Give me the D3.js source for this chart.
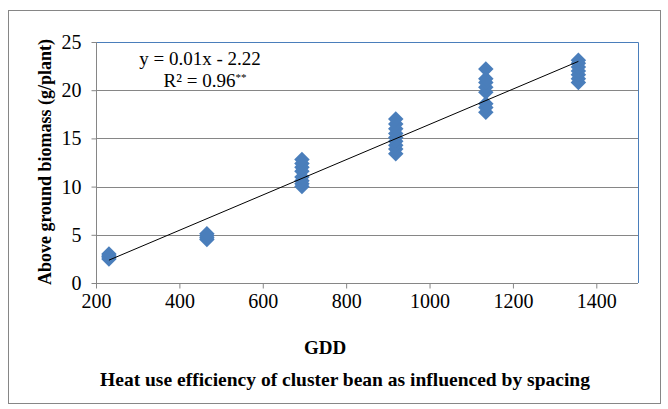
<!DOCTYPE html>
<html>
<head>
<meta charset="utf-8">
<script src="https://cdn.jsdelivr.net/npm/d3@7"></script>
<style>
  body { margin: 0; background: #fff; }
  svg { display: block; font-family: "Liberation Serif", "Times New Roman", serif; }
</style>
</head>
<body>
<svg id="chart" width="668" height="409"></svg>
<script>
// GDD groups and biomass readings (g/plant)
var gddLevels = [231, 466, 694, 919, 1135, 1357];
var biomass = [
    [2.5, 2.7, 2.8, 3.0],
    [4.5, 4.7, 4.9, 5.1],
    [10.0, 10.3, 10.6, 11.0, 11.6, 12.0, 12.4, 12.8],
    [13.4, 13.9, 14.3, 14.7, 15.1, 15.5, 16.0, 16.5, 17.0],
    [17.7, 18.2, 18.6, 19.8, 20.3, 20.8, 21.2, 22.2],
    [20.8, 21.2, 21.6, 22.0, 22.4, 22.8, 23.1]
];
var xTicks = [200, 400, 600, 800, 1000, 1200, 1400];
var yTicks = [0, 5, 10, 15, 20, 25];
var eqLine1 = "y = 0.01x - 2.22";
var eqLine2 = "R² = 0.96";
var xTitle = "GDD";
var yTitle = "Above ground biomass (g/plant)";
var caption = "Heat use efficiency of cluster bean as influenced by spacing";

var svg = d3.select("#chart");
var plotL = 96, plotR = 638, plotT = 42, plotB = 283;

// flat list of points
var pts = [];
for (var i = 0; i < gddLevels.length; i++) {
    for (var j = 0; j < biomass[i].length; j++) {
        pts.push({x: gddLevels[i], y: biomass[i][j]});
    }
}

var x = d3.scaleLinear().domain([200, 1500]).range([plotL, plotR]);
var y = d3.scaleLinear().domain([0, 25]).range([plotB, plotT]);

// outer frame
svg.append("rect")
    .attr("x", 8.5).attr("y", 10.5)
    .attr("width", 652).attr("height", 393)
    .attr("fill", "none").attr("stroke", "#868686");

// gridlines
svg.append("g").selectAll("line")
    .data(yTicks.slice(1, -1))
    .enter().append("line")
    .attr("x1", plotL).attr("x2", plotR)
    .attr("y1", function(d) { return Math.round(y(d)) + 0.5; })
    .attr("y2", function(d) { return Math.round(y(d)) + 0.5; })
    .attr("stroke", "#868686");

// plot border top/right (blue)
svg.append("path")
    .attr("d", "M" + plotL + "," + (plotT + 0.5) + "H" + (plotR + 0.5) + "V" + plotB)
    .attr("fill", "none").attr("stroke", "#4a7ebb");

// axes
var xAxis = svg.append("g")
    .attr("transform", "translate(0," + (plotB + 0.5) + ")")
    .call(d3.axisBottom(x).tickValues(xTicks).tickFormat(d3.format("d"))
        .tickSize(5).tickSizeOuter(0).tickPadding(5));
var yAxis = svg.append("g")
    .attr("transform", "translate(" + (plotL + 0.5) + ",0)")
    .call(d3.axisLeft(y).tickValues(yTicks).tickFormat(d3.format("d"))
        .tickSize(5).tickSizeOuter(0).tickPadding(10));
[xAxis, yAxis].forEach(function(a) {
    a.select(".domain").attr("stroke", "#868686");
    a.selectAll(".tick line").attr("stroke", "#868686");
    a.selectAll(".tick text")
        .attr("fill", "#000")
        .style("font-family", "'Liberation Serif', serif")
        .style("font-size", "20px");
});
xAxis.select(".domain").attr("d", "M" + plotL + ",0H" + plotR);
yAxis.select(".domain").attr("d", "M0," + plotT + "V" + plotB);

// markers
var diamond = d3.symbol(d3.symbolSquare, 120);
svg.append("g").selectAll("path")
    .data(pts)
    .enter().append("path")
    .attr("d", diamond)
    .attr("transform", function(d) {
        return "translate(" + x(d.x) + "," + y(d.y) + ") rotate(45)";
    })
    .attr("fill", "#4a7ebb");

// linear trend from the points
var mx = d3.mean(pts, function(d) { return d.x; });
var my = d3.mean(pts, function(d) { return d.y; });
var sxy = d3.sum(pts, function(d) { return (d.x - mx) * (d.y - my); });
var sxx = d3.sum(pts, function(d) { return (d.x - mx) * (d.x - mx); });
var slope = sxy / sxx;
var icpt = my - slope * mx;
var xr = d3.extent(pts, function(d) { return d.x; });
svg.append("line")
    .attr("x1", x(xr[0])).attr("y1", y(slope * xr[0] + icpt))
    .attr("x2", x(xr[1])).attr("y2", y(slope * xr[1] + icpt))
    .attr("stroke", "#000").attr("stroke-width", 1);

// equation label
svg.append("text")
    .attr("x", 200).attr("y", 65)
    .attr("text-anchor", "middle")
    .style("font-size", "19px")
    .text(eqLine1);
var r2 = svg.append("text")
    .attr("x", 205).attr("y", 87)
    .attr("text-anchor", "middle")
    .style("font-size", "19px");
r2.append("tspan").text(eqLine2);
r2.append("tspan").attr("dy", -6).style("font-size", "11px").text("**");

// titles
svg.append("text")
    .attr("transform", "translate(51,162) rotate(-90)")
    .attr("text-anchor", "middle")
    .style("font-size", "18px").style("font-weight", "bold")
    .text(yTitle);
svg.append("text")
    .attr("x", 325).attr("y", 354)
    .attr("text-anchor", "middle")
    .style("font-size", "19px").style("font-weight", "bold")
    .text(xTitle);
svg.append("text")
    .attr("x", 345).attr("y", 386)
    .attr("text-anchor", "middle")
    .style("font-size", "19.5px").style("font-weight", "bold")
    .text(caption);
</script>
</body>
</html>
